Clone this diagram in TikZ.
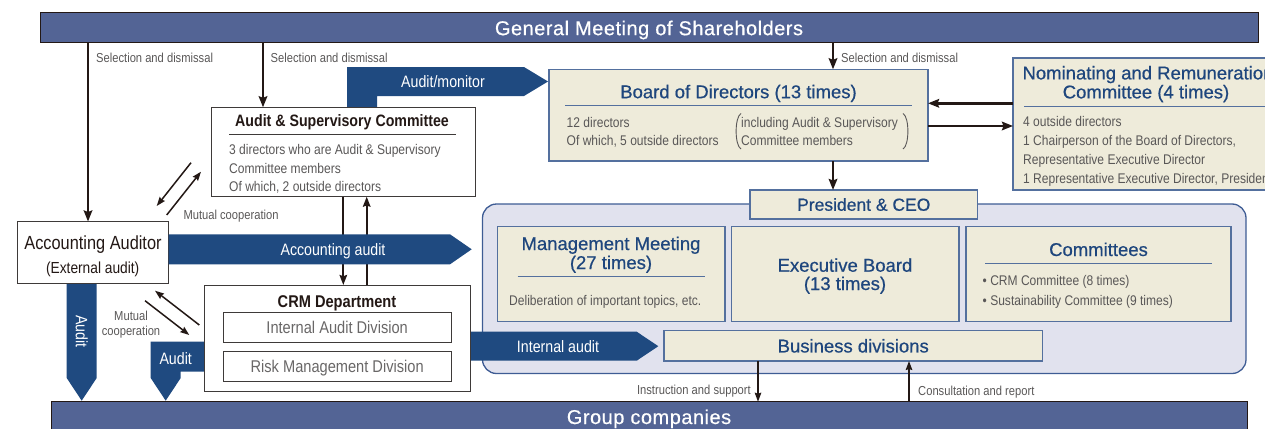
\documentclass[tikz,border=0pt]{standalone}
\usepackage{fontspec}
\setmainfont{Liberation Sans}
\newfontfamily\condf[FakeStretch=0.86]{Liberation Sans}
\newfontfamily\medf[FakeBold=0.6]{Liberation Sans}
\newfontfamily\widef[LetterSpace=2.5,FakeBold=0.5]{Liberation Sans}
\usetikzlibrary{arrows.meta}
\definecolor{navy}{RGB}{31,74,128}
\definecolor{bandc}{RGB}{83,100,149}
\definecolor{beige}{RGB}{238,235,218}
\definecolor{bblue}{RGB}{84,112,158}
\definecolor{panelc}{RGB}{225,226,238}
\definecolor{pborder}{RGB}{62,92,148}
\definecolor{ttlc}{RGB}{30,70,125}
\definecolor{bodyg}{RGB}{89,87,87}
\definecolor{subg}{RGB}{105,103,103}
\definecolor{ink}{RGB}{35,24,21}
\definecolor{framec}{RGB}{62,58,57}
\begin{document}
\begin{tikzpicture}[x=1pt,y=-1pt,
  band/.style={fill=bandc, draw=ink, line width=1pt, inner sep=0pt, outer sep=0pt, text=white,
    font=\widef\fontsize{20}{22}\selectfont, text height=14.3pt, text depth=0pt},
  bbox/.style={fill=beige, draw=bblue, line width=1.1pt, inner sep=0pt, outer sep=0pt},
  wbox/.style={fill=white, draw=framec, line width=1pt, inner sep=0pt, outer sep=0pt},
  ttl/.style={text=ttlc, font=\medf\fontsize{18.5}{20}\selectfont, inner sep=0pt, anchor=base},
  body/.style={text=bodyg, font=\condf\fontsize{14}{16}\selectfont, inner sep=0pt, anchor=base west},
  lab/.style={text=bodyg, font=\condf\fontsize{13}{15}\selectfont, inner sep=0pt, anchor=base west},
  wlab/.style={text=white, font=\condf\fontsize{16.5}{18}\selectfont, inner sep=0pt, anchor=base},
  btitle/.style={text=ink, font=\condf\bfseries\fontsize{16.5}{18}\selectfont, inner sep=0pt, anchor=base},
  bigarrow/.style={fill=navy, draw=none},
  sel/.style={draw=ink, line width=2.6pt, -{Stealth[length=11pt,width=8.5pt,inset=1.5pt]}},
  midarr/.style={draw=ink, line width=1.9pt, -{Stealth[length=10pt,width=7.5pt,inset=1.2pt]}},
  thinarr/.style={draw=ink, line width=1.5pt, -{Stealth[length=9pt,width=6.5pt,inset=1pt]}},
  uline/.style={draw=bblue, line width=1pt},
  gline/.style={draw=framec, line width=0.9pt},
  paren/.style={draw=bodyg, line width=0.9pt}
]
\useasboundingbox (0,0) rectangle (1265,428);
\clip (0,0) rectangle (1265,428);

% bands
\node[band, minimum width=1218pt, minimum height=30pt] (gm) at (649,28) {General Meeting of Shareholders};
\node[band, minimum width=1196pt, minimum height=30.3pt] (gc) at (649,416.85) {Group companies};

% executive panel
\node[draw=pborder, fill=panelc, line width=1.3pt, rounded corners=14pt, inner sep=0pt, outer sep=0pt,
      minimum width=763.5pt, minimum height=169.5pt] (panel) at (864.25,288.75) {};

% big arrows (except accounting audit, drawn later above the ASC-CRM lines)
\fill[bigarrow] (347,107.3) -- (347,67) -- (524,67) -- (548,81.5) -- (524,96) -- (377,96) -- (377,107.3) -- cycle;
\node[wlab] (amlab) at (443,87.4) {Audit/monitor};
\fill[bigarrow] (66.7,283) -- (96.7,283) -- (96.7,378) -- (81.7,400.7) -- (66.7,378) -- cycle;
\node[wlab, anchor=center, rotate=-90] (au1lab) at (81.7,331.7) {Audit};
\fill[bigarrow] (204,341.7) -- (150.7,341.7) -- (150.7,378) -- (165.7,400.7) -- (180.7,378) -- (180.7,371.7) -- (204,371.7) -- cycle;
\node[wlab] (au2lab) at (175.7,364.2) {Audit};
\fill[bigarrow] (470,331.7) -- (636.7,331.7) -- (658.3,346.2) -- (636.7,360.7) -- (470,360.7) -- cycle;
\node[wlab] (iaulab) at (558,352) {Internal audit};

% Board of Directors
\node[bbox, minimum width=379pt, minimum height=91.7pt] (bod) at (738.5,115.15) {};
\node[ttl] (bodt) at (738.5,98.2) {Board of Directors (13 times)};
\draw[uline] (565,105) -- (912,105);
\node[body] (bod1) at (566.5,127.7) {12 directors};
\node[body] (bod2) at (566.5,145.7) {Of which, 5 outside directors};
\node[body] (bod3) at (741,127.7) {including Audit \& Supervisory};
\node[body] (bod4) at (741,145.7) {Committee members};
\draw[paren] (741,113.5) .. controls (734.5,117) and (734.5,145.5) .. (741,149);
\draw[paren] (903,113.5) .. controls (909.5,117) and (909.5,145.5) .. (903,149);

% Nominating and Remuneration Committee
\node[bbox, minimum width=270pt, minimum height=132pt] (nrc) at (1148,124) {};
\node[ttl] (nrct1) at (1148,79.4) {Nominating and Remuneration};
\node[ttl] (nrct2) at (1146,98.4) {Committee (4 times)};
\draw[uline] (1024,106.5) -- (1290,106.5);
\node[body] (nrc1) at (1023,126.7) {4 outside directors};
\node[body] (nrc2) at (1023,145.6) {1 Chairperson of the Board of Directors,};
\node[body] (nrc3) at (1023,164.5) {Representative Executive Director};
\node[body] (nrc4) at (1023,183.3) {1 Representative Executive Director, President};

% Audit & Supervisory Committee
\node[wbox, minimum width=264pt, minimum height=89.4pt] (asc) at (343,152) {};
\node[btitle] (asct) at (342,126.7) {Audit \& Supervisory Committee};
\draw[gline] (229,134.3) -- (455.7,134.3);
\node[body] (asc1) at (229,154.3) {3 directors who are Audit \& Supervisory};
\node[body] (asc2) at (229,173.3) {Committee members};
\node[body] (asc3) at (229,191.7) {Of which, 2 outside directors};

% Accounting Auditor
\node[wbox, minimum width=151.5pt, minimum height=61.5pt] (aa) at (92.75,252.25) {};
\node[text=ink, font=\condf\fontsize{19}{21}\selectfont, inner sep=0pt, anchor=base] (aat1) at (93,249.8) {Accounting Auditor};
\node[text=ink, font=\condf\fontsize{16}{18}\selectfont, inner sep=0pt, anchor=base] (aat2) at (92.7,273) {(External audit)};

% CRM Department
\node[wbox, minimum width=266pt, minimum height=106.7pt] (crm) at (337,338.35) {};
\node[btitle, font=\condf\bfseries\fontsize{17}{19}\selectfont] (crmt) at (337,307.1) {CRM Department};
\node[wbox, minimum width=227.7pt, minimum height=30pt, text=subg, font=\condf\fontsize{17}{19}\selectfont,
      text height=12.2pt, text depth=0pt] (iad) at (337.15,327.7) {Internal Audit Division};
\node[wbox, minimum width=227.7pt, minimum height=30pt, text=subg, font=\condf\fontsize{17}{19}\selectfont,
      text height=12.2pt, text depth=0pt] (rmd) at (337.15,366) {Risk Management Division};

% President & CEO
\node[bbox, minimum width=227.5pt, minimum height=29pt, text=ttlc, font=\medf\fontsize{17.5}{19}\selectfont,
      text height=12.5pt, text depth=0pt] (ceo) at (863.75,204.5) {President \& CEO};

% Management Meeting
\node[bbox, minimum width=227.5pt, minimum height=95pt] (mm) at (611.25,274.2) {};
\node[ttl] (mmt1) at (611,250) {Management Meeting};
\node[ttl] (mmt2) at (611,269) {(27 times)};
\draw[uline] (517.5,276.7) -- (705,276.7);
\node[body] (mm1) at (509,305) {Deliberation of important topics, etc.};

% Executive Board
\node[bbox, minimum width=227.5pt, minimum height=95pt] (eb) at (845.25,274.2) {};
\node[ttl] (ebt1) at (845,271.7) {Executive Board};
\node[ttl] (ebt2) at (845,290) {(13 times)};

% Committees
\node[bbox, minimum width=265pt, minimum height=95pt] (cm) at (1098.5,274.2) {};
\node[ttl] (cmt) at (1098.5,256) {Committees};
\draw[uline] (985,263.3) -- (1211.5,263.3);
\node[body] (cm1) at (982.5,285.7) {• CRM Committee (8 times)};
\node[body] (cm2) at (982.5,305) {• Sustainability Committee (9 times)};

% Business divisions
\node[bbox, minimum width=378.5pt, minimum height=30.3pt, text=ttlc, font=\medf\fontsize{18.5}{20}\selectfont,
      text height=13.2pt, text depth=0pt] (bd) at (853.25,345.85) {Business divisions};

% selection arrows
\draw[sel] (gm.south -| 88,0) -- (aa.north -| 88,0);
\draw[sel] (gm.south -| 263,0) -- (asc.north -| 263,0);
\draw[sel] (gm.south -| 833,0) -- (bod.north -| 833,0);
\node[lab] (sel1) at (96,62.7) {Selection and dismissal};
\node[lab] (sel2) at (270.5,62.7) {Selection and dismissal};
\node[lab] (sel3) at (841,62.7) {Selection and dismissal};

% board connections
\draw[sel] (bod.south -| 833,0) -- (ceo.north -| 833,0);
\draw[sel] (nrc.west |- 0,103.3) -- (bod.east |- 0,103.3);
\draw[sel] (bod.east |- 0,126) -- (nrc.west |- 0,126);

% ASC <-> CRM
\draw[midarr] (asc.south -| 343.3,0) -- (crm.north -| 343.3,0);
\draw[midarr] (crm.north -| 366.7,0) -- (asc.south -| 366.7,0);

% accounting audit arrow (over the ASC-CRM lines)
\fill[bigarrow] (aa.east |- 0,234.3) -- (450,234.3) -- (471.7,249.3) -- (450,264.3) -- (aa.east |- 0,264.3) -- cycle;
\node[wlab] (aclab) at (333,255.2) {Accounting audit};

% mutual cooperation (upper)
\coordinate (mu1a) at (191,162.7);
\coordinate (mu1b) at (156.7,206);
\coordinate (mu2a) at (166.7,215);
\coordinate (mu2b) at (201,171.7);
\draw[thinarr] (mu1a) -- (mu1b);
\draw[thinarr] (mu2a) -- (mu2b);
\node[lab] (mulab1) at (183.3,219) {Mutual cooperation};

% mutual cooperation (lower)
\coordinate (ml1a) at (199.3,325);
\coordinate (ml1b) at (155,290.7);
\coordinate (ml2a) at (145,300.7);
\coordinate (ml2b) at (189.3,335);
\draw[thinarr] (ml1a) -- (ml1b);
\draw[thinarr] (ml2a) -- (ml2b);
\node[lab, anchor=base] (mll1) at (131,320.4) {Mutual};
\node[lab, anchor=base] (mll2) at (131,335.7) {cooperation};

% business divisions <-> group companies
\draw[thinarr] (bd.south -| 758,0) -- (gc.north -| 758,0);
\draw[thinarr] (gc.north -| 909,0) -- (bd.south -| 909,0);
\node[lab, anchor=base east] (ins) at (751,394.7) {Instruction and support};
\node[lab] (con) at (918,395) {Consultation and report};
\end{tikzpicture}
\end{document}
